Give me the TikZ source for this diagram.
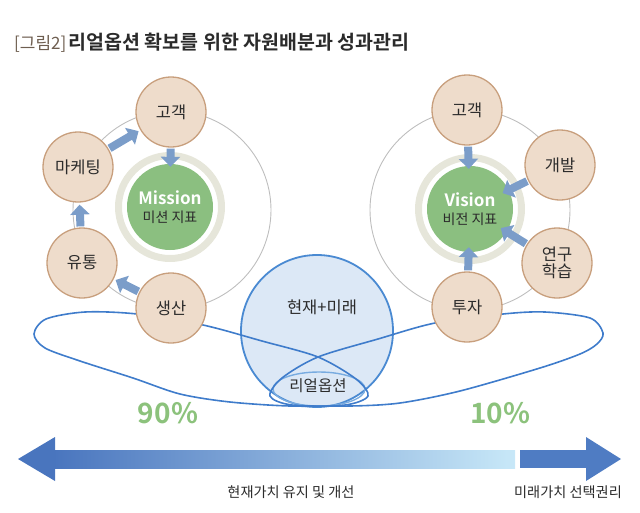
\documentclass[tikz,border=0pt]{standalone}
\usepackage{fontspec}
\setmainfont{Noto Sans CJK KR}[BoldFont={Noto Sans CJK KR Bold}]
\usetikzlibrary{arrows.meta}
\definecolor{nodefill}{HTML}{EEDCCB}
\definecolor{nodebrd}{HTML}{C89F7D}
\definecolor{goalgreen}{HTML}{8BBF80}
\definecolor{ringgray}{HTML}{E6E6DA}
\definecolor{orbitgray}{HTML}{BEBEBE}
\definecolor{flowblue}{HTML}{7B9DC9}
\definecolor{loopblue}{HTML}{3F7CCB}
\definecolor{bubblefill}{HTML}{DCE8F6}
\definecolor{bubblebrd}{HTML}{4A8AD2}
\definecolor{lensbrd}{HTML}{78ABE0}
\definecolor{pctgreen}{HTML}{8CC27C}
\definecolor{barL}{HTML}{4975BE}
\definecolor{barR}{HTML}{C8E8F8}
\definecolor{barD}{HTML}{4F7CC3}
\definecolor{txt}{HTML}{2B2B2B}
\definecolor{titlegray}{HTML}{6E5E50}

\begin{document}
\begin{tikzpicture}[x=1pt,y=-1pt,
  item/.style={circle,draw=nodebrd,fill=nodefill,line width=1.3pt,minimum size=70pt,inner sep=0pt,align=center,font=\fontsize{16.5}{18}\selectfont,text=txt},
  goal/.style={circle,fill=goalgreen,minimum size=86pt,inner sep=0pt,align=center,font=\fontsize{14}{18}\selectfont,text=txt},
  ring/.style={draw=ringgray,line width=7pt},
  orbit/.style={draw=orbitgray,line width=0.9pt},
  flow/.style={draw=flowblue,line width=8pt,-{Triangle[length=10pt,width=19pt]},shorten <=1pt},
  loopline/.style={draw=loopblue,line width=1.6pt},
  pct/.style={font=\bfseries\fontsize{28}{30}\selectfont,text=pctgreen},
  caption/.style={font=\fontsize{14.2}{16}\selectfont,text=txt}]
  \useasboundingbox (0,0) rectangle (640,512);
  % title
  \node[anchor=west,inner sep=0pt] (title) at (14,43) {{\fontsize{17}{19}\selectfont\color{titlegray}[그림2]} \textbf{\fontsize{19.5}{21}\selectfont\color{txt}리얼옵션 확보를 위한 자원배분과 성과관리}};
  % goals with their rings and orbits
  \node[goal] (missionL) at (170,207) {{\bfseries\color{white}\fontsize{17}{19}\selectfont Mission}\\미션 지표};
  \node[goal] (visionR) at (470,209) {{\bfseries\color{white}\fontsize{17}{19}\selectfont Vision}\\비전 지표};
  \draw[ring] (missionL) circle (51.5); \draw[ring] (visionR) circle (51.5);
  \draw[orbit] (172,210) circle (99); \draw[orbit] (470,210) circle (100);
  % present + future
  \filldraw[fill=bubblefill,draw=bubblebrd,line width=1.8pt] (317,331) circle (76);
  \draw[draw=lensbrd,line width=1.4pt] (319,389) ellipse (46 and 17);
  \draw[loopline] plot[smooth cycle] coordinates {(34,334) (46,319) (85,312) (137,314) (203,325) (262,341) (318,357) (356,379) (368,396) (345,405) (290,406) (230,402) (180,394) (133,378) (80,361) (45,348)};
  \draw[loopline] plot[smooth cycle] coordinates {(603,333) (590,318) (545,312) (503,314) (435,323) (378,339) (318,357) (282,378) (270,396) (292,405) (350,406) (400,403) (460,391) (540,368) (580,354) (597,344)};
  \node[font=\fontsize{16.5}{18}\selectfont,text=txt] (now) at (322,307) {현재+미래};
  \node[font=\fontsize{15.5}{17}\selectfont,text=txt] (option) at (318,386) {리얼옵션};
  % left cycle
  \node[item] (custL) at (171,112) {고객};
  \node[item] (mktL) at (78,167) {마케팅};
  \node[item] (distL) at (82,263) {유통};
  \node[item] (prodL) at (171,308) {생산};
  \draw[flow,shorten >=-3pt] (custL) -- (missionL);
  \draw[flow,shorten >=2pt] (mktL) -- (custL);
  \draw[flow,shorten >=2pt] (distL) -- (mktL);
  \draw[flow,shorten >=2pt] (prodL) -- (distL);
  % right cycle
  \node[item] (custR) at (467,110) {고객};
  \node[item] (devR) at (560,165) {개발};
  \node[item,font=\fontsize{16.5}{17}\selectfont] (studyR) at (557,263) {연구\\학습};
  \node[item] (investR) at (467,307) {투자};
  \draw[flow,shorten >=-3pt] (custR) -- (visionR);
  \draw[flow,shorten >=-7pt] (devR) -- (visionR);
  \draw[flow,shorten >=-7pt] (studyR) -- (visionR);
  \draw[flow,shorten >=-5pt] (investR) -- (visionR);
  % shares
  \node[pct] (share90) at (168,413) {90\%};
  \node[pct] (share10) at (500,413) {10\%};
  % value bar
  \shade[left color=barL,right color=barR] (52,450) rectangle (515,468);
  \fill[barL] (18,459) -- (55,437) -- (55,481) -- cycle;
  \fill[barD] (520,450) rectangle (588,468);
  \fill[barD] (621,459) -- (586,437) -- (586,481) -- cycle;
  \node[caption] (keep) at (291,492) {현재가치 유지 및 개선};
  \node[caption] (choose) at (568,492) {미래가치 선택권리};
\end{tikzpicture}
\end{document}
